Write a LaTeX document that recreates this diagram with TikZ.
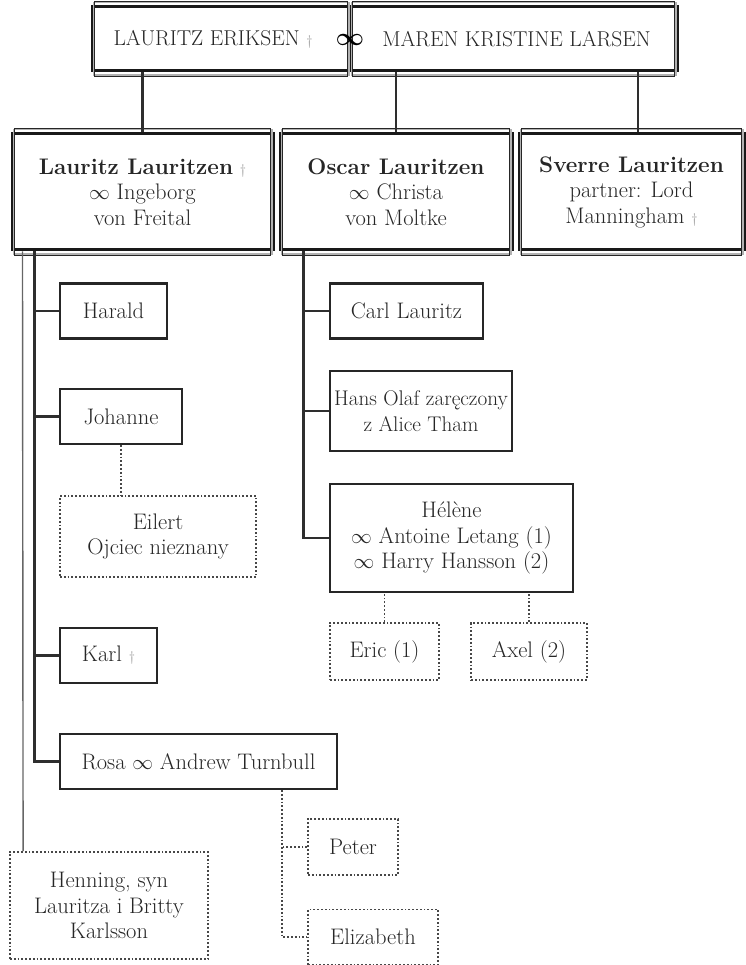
\documentclass[tikz,border=0pt]{standalone}
\usepackage{fontspec}
\begin{document}
\begin{tikzpicture}[x=1pt,y=-1pt,
  every node/.style={font=\fontsize{22.5}{25.5}\selectfont, text=black!85, align=center, inner sep=0pt},
  dblbox/.style={draw=black!90, line width=3pt, fill=white},
  plainbox/.style={draw=black!85, line width=2.3pt, fill=white},
  dotbox/.style={draw=black!72, line width=1.8pt, dash pattern=on 1.8pt off 2pt, fill=white},
  conn/.style={draw=black!82, line width=2.1pt},
  thinconn/.style={draw=black!60, line width=1.4pt},
  dotconn/.style={draw=black!72, line width=1.8pt, dash pattern=on 1.8pt off 2pt},
  dg/.style={text=black!40}]
\useasboundingbox (0,0) rectangle (745,965);
% top couple
\node[dblbox, minimum width=258pt, minimum height=64pt, font=\fontsize{21.5}{24}\selectfont] (tl) at (221,39) {LAURITZ ERIKSEN {\color{black!40}\fontsize{14}{14}\selectfont\textdagger}\hspace*{16pt}};
\node[dblbox, minimum width=327pt, minimum height=64pt, font=\fontsize{21.5}{24}\selectfont] (tr) at (513.5,39) {\hspace*{6pt}MAREN KRISTINE LARSEN};
% children
\node[dblbox, minimum width=261pt, minimum height=116pt] (lau) at (142.5,192) {\textbf{Lauritz Lauritzen} {\color{black!40}\fontsize{14}{14}\selectfont\textdagger}\\$\infty$ Ingeborg\\von Freital};
\node[dblbox, minimum width=232pt, minimum height=116pt] (osc) at (396,192) {\textbf{Oscar Lauritzen}\\$\infty$ Christa\\von Moltke};
\node[dblbox, minimum width=225pt, minimum height=116pt] (sve) at (631.5,192) {\textbf{Sverre Lauritzen}\\partner: Lord\\Manningham {\color{black!40}\fontsize{14}{14}\selectfont\textdagger}};
\foreach \n in {tl,tr,lau,osc,sve}{
  \draw[black!30, line width=1.6pt] ([shift={(2.8pt,-2.8pt)}]\n.south west) rectangle ([shift={(-2.8pt,2.8pt)}]\n.north east);
  \draw[black!85, line width=1pt] ([shift={(4.4pt,-4.4pt)}]\n.south west) rectangle ([shift={(-4.4pt,4.4pt)}]\n.north east);
}
\node[font=\fontsize{38}{38}\selectfont\boldmath, text=black] (inf) at (350,40) {$\infty$};
% grandchildren of Lauritz
\node[plainbox, minimum width=107pt, minimum height=55pt] (har) at (113.5,311) {Harald};
\node[plainbox, minimum width=122pt, minimum height=55pt] (joh) at (121,416.5) {Johanne};
\node[dotbox, minimum width=196pt, minimum height=81pt] (eil) at (158,536.5) {Eilert\\Ojciec nieznany};
\node[plainbox, minimum width=97pt, minimum height=55pt] (kar) at (108.5,655.5) {Karl {\color{black!40}\fontsize{14}{14}\selectfont\textdagger}};
\node[plainbox, minimum width=277pt, minimum height=55pt] (ros) at (198.5,761.5) {Rosa $\infty$ Andrew Turnbull};
\node[dotbox, minimum width=198pt, minimum height=107pt] (hen) at (109,905.5) {Henning, syn\\Lauritza i Britty\\Karlsson};
\node[dotbox, minimum width=90pt, minimum height=56pt] (pet) at (353,847) {Peter};
\node[dotbox, minimum width=130pt, minimum height=55pt] (eli) at (373,937) {Elizabeth};
% grandchildren of Oscar
\node[plainbox, minimum width=153pt, minimum height=55pt] (car) at (406.5,311) {Carl Lauritz};
\node[plainbox, minimum width=182pt, minimum height=80pt, font=\fontsize{21.2}{25.5}\selectfont] (han) at (421,411) {Hans Olaf zaręczony\\z Alice Tham};
\node[plainbox, minimum width=243pt, minimum height=108pt] (hel) at (451.5,538) {Hélène\\$\infty$ Antoine Letang (\oldstylenums{1})\\$\infty$ Harry Hansson (\oldstylenums{2})};
\node[dotbox, minimum width=109pt, minimum height=57pt] (eri) at (384.5,651.5) {Eric (\oldstylenums{1})};
\node[dotbox, minimum width=116pt, minimum height=57pt] (axe) at (529,651.5) {Axel (\oldstylenums{2})};
% connectors top
\draw[conn] (lau.north) -- (lau.north |- tl.south);
\draw[conn] (osc.north) -- (osc.north |- tr.south);
\draw[conn] ([xshift=6.5pt]sve.north) -- ([xshift=6.5pt]sve.north |- tr.south);
% Lauritz lines
\coordinate (lv) at ([xshift=24pt]lau.south west);
\draw[conn] (lv) |- (ros.west);
\foreach \n in {har,joh,kar}{ \draw[conn] (\n.west) -- (\n.west -| lv); }
\draw[thinconn] ([xshift=12pt]lau.south west) -- ([xshift=14pt]hen.north west);
\draw[dotconn] (joh.south) -- (joh.south |- eil.north);
% Rosa children
\coordinate (rv) at ([xshift=-25pt]pet.west |- ros.south);
\draw[dotconn] (rv) |- (eli.west);
\draw[dotconn] (pet.west) -- (pet.west -| rv);
% Oscar lines
\coordinate (ov) at ([xshift=25pt]osc.south west);
\draw[conn] (ov) |- (hel.west);
\foreach \n in {car,han}{ \draw[conn] (\n.west) -- (\n.west -| ov); }
\draw[dotconn] (eri.north) -- (eri.north |- hel.south);
\draw[dotconn] (axe.north) -- (axe.north |- hel.south);
\end{tikzpicture}
\end{document}
